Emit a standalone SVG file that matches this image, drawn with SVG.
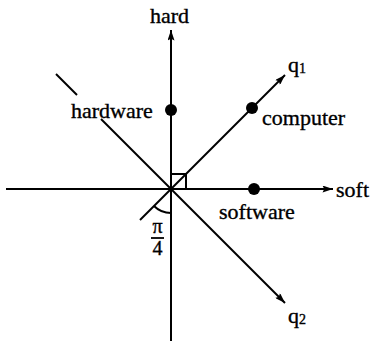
<svg xmlns="http://www.w3.org/2000/svg" width="377" height="351" viewBox="0 0 377 351">
<defs>
<marker id="ah" viewBox="0 0 12 8" refX="12" refY="4" markerWidth="12" markerHeight="7" markerUnits="userSpaceOnUse" orient="auto">
<path d="M0,0 L12,4 L0,8 L2,4 Z" fill="#000"/>
</marker>
</defs>
<style>
.ln{stroke:#000;stroke-width:2;fill:none}
.t{font-family:"Liberation Serif","Times New Roman",serif;font-size:22px;fill:#000;stroke:#000;stroke-width:0.35}
.s{font-size:14px}
</style>
<rect width="377" height="351" fill="#fff"/>
<g id="connectors">
<line class="ln" x1="6" y1="189" x2="333" y2="189" marker-end="url(#ah)"/>
<line class="ln" x1="171" y1="341" x2="171" y2="30" marker-end="url(#ah)"/>
<line class="ln" x1="140" y1="220" x2="285" y2="75" marker-end="url(#ah)"/>
<line class="ln" x1="56" y1="74" x2="77" y2="95"/>
<line class="ln" x1="101" y1="119" x2="285" y2="303" marker-end="url(#ah)"/>
<path class="ln" d="M171,174 H186 V189" stroke-width="1.5"/>
<path class="ln" d="M154,206 A24,24 0 0 0 171,213" stroke-width="1.5"/>
</g>
<g id="hard"><text class="t" x="150" y="23">hard</text></g>
<g id="soft"><text class="t" x="336" y="197">soft</text></g>
<g id="q1"><text class="t" x="288" y="72">q<tspan class="s" dy="1">1</tspan></text></g>
<g id="q2"><text class="t" x="288" y="323">q<tspan class="s" dy="1">2</tspan></text></g>
<g id="hardware"><circle cx="171" cy="110" r="6"/><text class="t" x="71" y="118">hardware</text></g>
<g id="computer"><circle cx="252" cy="108" r="6"/><text class="t" x="262" y="125">computer</text></g>
<g id="software"><circle cx="254" cy="189" r="6"/><text class="t" x="219" y="219">software</text></g>
<g id="pi4">
<text class="t" x="157.5" y="233" text-anchor="middle" style="font-size:20px">π</text>
<line x1="151" y1="238" x2="164" y2="238" stroke="#000" stroke-width="1.8"/>
<text class="t" x="157.5" y="255" text-anchor="middle" style="font-size:20px">4</text>
</g>
</svg>
